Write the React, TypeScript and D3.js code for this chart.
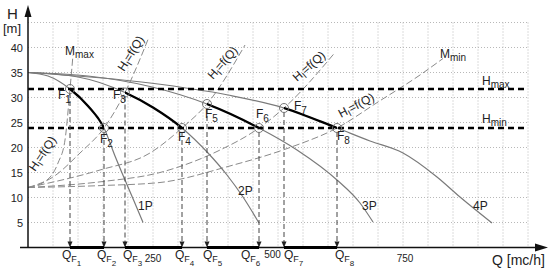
import React from 'react';
import * as d3 from 'd3';

const W = 550;
const HT = 273;
const FONT = "'Liberation Sans', Arial, sans-serif";

// pump curves H = f(Q) for 1..4 pumps in parallel
const p1Q = [0, 40, 84, 120, 152, 174, 194, 212, 230];
const p1H = [35, 34.3, 31.7, 28.3, 23.9, 18.3, 13.5, 9.3, 5];
const p2Q = [0, 100, 194, 250, 308, 360, 398, 430, 462];
const p2H = [35, 34.1, 31, 28, 23.9, 18.9, 14.5, 10.1, 4.9];
const p3Q = [0, 120, 244, 358, 462, 538, 618, 664, 690];
const p3H = [35, 34.3, 32.2, 28.7, 23.9, 19.5, 13.5, 8.9, 5.1];
const p4Q = [0, 244, 400, 512, 618, 684, 750, 818, 864, 928];
const p4H = [35, 32.9, 30.5, 27.9, 23.9, 21.3, 18.9, 14.1, 10.1, 4.9];
const pumpNames = ['1P', '2P', '3P', '4P'];
const pumpLabelQ = [220, 420, 668, 890];
const pumpLabelH = [7.5, 10.5, 7.5, 7.5];

// system curves Hi = f(Q)
const s1Q = [0, 38, 60, 74, 84, 90];
const s1H = [12, 13.5, 16.9, 21.5, 31.7, 38.5];
const s2Q = [0, 50, 104, 152, 194, 242];
const s2H = [12, 14.1, 18.9, 23.9, 31, 42.1];
const s3Q = [0, 144, 244, 308, 358, 434];
const s3H = [12, 15.5, 18.9, 23.9, 28.7, 40.5];
const s4Q = [0, 150, 264, 380, 462, 512, 614];
const s4H = [12, 13.2, 15, 19.3, 23.9, 27.9, 39];
const s5Q = [0, 150, 264, 400, 524, 618, 700, 784, 830];
const s5H = [12, 12.4, 13, 16.2, 20, 23.9, 29.1, 34.5, 37.8];
const sysLabelQ = [14, 192, 370, 538, 626];
const sysLabelH = [15.1, 35.1, 33.5, 33.1, 25.9];
const sysLabelAngle = [-56, -58, -49, -41, -28];

// operating points F1..F8
const fQ = [84, 152, 194, 308, 358, 462, 512, 618];
const fH = [31.7, 23.9, 31, 23.9, 28.7, 23.9, 27.9, 23.9];
const fNames = ['1', '2', '3', '4', '5', '6', '7', '8'];
const fDx = [-12, -4, -12, -4, -2, -3, 10, 0];
const fDy = [10, 15, 6, 13, 14, -10, 2, 12];
const qfDx = [-8, -7, -2, -7, -4, -18, 0, -2];

const hMax = 31.7;
const hMin = 23.9;
const yTickLabels = [5, 10, 15, 20, 25, 30, 35, 40];
const xTickLabels = [250, 500, 750];
const xTickDx = [0, -5.5, 2];
const xTickDy = [0, -4, 0];

type Pt = [number, number];
const zip = (q: number[], h: number[]): Pt[] => q.map((v, i) => [v, h[i]]);

export default function App() {
  const x = d3.scaleLinear().domain([0, 1000]).range([28, 528]);
  const y = d3.scaleLinear().domain([0, 45]).range([247.5, 22.5]);
  const line = d3
    .line<Pt>()
    .x((d) => x(d[0]))
    .y((d) => y(d[1]))
    .curve(d3.curveMonotoneX);

  const pumps = [zip(p1Q, p1H), zip(p2Q, p2H), zip(p3Q, p3H), zip(p4Q, p4H)];
  const systems = [zip(s1Q, s1H), zip(s2Q, s2H), zip(s3Q, s3H), zip(s4Q, s4H), zip(s5Q, s5H)];

  const y0 = y(0);
  const gridX = x.ticks(20).filter((d) => d > 0);
  const gridY = y.ticks(9).filter((d) => d > 0);

  return (
    <svg
      width={W}
      height={HT}
      style={{ position: 'absolute', left: 0, top: 0, background: '#fff' }}
      fontFamily={FONT}
    >
      <defs>
        {pumps.map((_, i) => (
          <clipPath id={`bold${i}`} key={i}>
            <rect x={x(fQ[2 * i])} y={0} width={x(fQ[2 * i + 1]) - x(fQ[2 * i])} height={HT} />
          </clipPath>
        ))}
      </defs>

      {/* grid */}
      <g stroke="#b8b8b8" strokeWidth={1} strokeDasharray="1 2">
        {gridX.map((d) => (
          <line key={'gx' + d} x1={x(d)} x2={x(d)} y1={y(45)} y2={y0} />
        ))}
        {gridY.map((d) => (
          <line key={'gy' + d} x1={x(0)} x2={x(1000)} y1={y(d)} y2={y(d)} />
        ))}
      </g>

      {/* system curves */}
      <g fill="none" stroke="#8a8a8a" strokeWidth={1} strokeDasharray="7 3">
        {systems.map((s, i) => (
          <path key={i} d={line(s) || ''} />
        ))}
      </g>

      {/* pump curves */}
      <g fill="none">
        {pumps.map((p, i) => (
          <path key={i} d={line(p) || ''} stroke="#7a7a7a" strokeWidth={1.2} />
        ))}
        {pumps.map((p, i) => (
          <path
            key={'b' + i}
            d={line(p) || ''}
            stroke="#000"
            strokeWidth={2.3}
            clipPath={`url(#bold${i})`}
          />
        ))}
      </g>

      {/* Hmax / Hmin */}
      <g stroke="#000" strokeWidth={2.5} strokeDasharray="6 4">
        <line x1={x(0)} x2={x(1000)} y1={y(hMax)} y2={y(hMax)} />
        <line x1={x(0)} x2={x(1000)} y1={y(hMin)} y2={y(hMin)} />
      </g>

      {/* vertical drop lines to QF */}
      <g>
        {fQ.map((q, i) => (
          <g key={i}>
            <line
              x1={x(q)}
              x2={x(q)}
              y1={y(fH[i]) + 4}
              y2={y0 - 4}
              stroke="#444"
              strokeWidth={1}
              strokeDasharray="5 3"
            />
            <path d={`M${x(q)},${y0} L${x(q) - 2.5},${y0 - 6} L${x(q) + 2.5},${y0 - 6} Z`} fill="#222" />
          </g>
        ))}
      </g>

      {/* axes */}
      <g stroke="#111" strokeWidth={1.5}>
        <line x1={20} x2={540} y1={y0} y2={y0} />
        <line x1={x(0)} x2={x(0)} y1={y0} y2={14} />
      </g>
      <path d={`M${x(0)},5 L${x(0) - 3.5},17 L${x(0) + 3.5},17 Z`} fill="#111" />
      <path d={`M548,${y0} L535,${y0 - 4} L535,${y0 + 4} Z`} fill="#111" />

      {/* bold Q ranges on axis */}
      <g stroke="#000" strokeWidth={3}>
        {[0, 1, 2, 3].map((i) => (
          <line key={i} x1={x(fQ[2 * i])} x2={x(fQ[2 * i + 1])} y1={y0} y2={y0} />
        ))}
      </g>

      {/* operating point circles */}
      <g fill="none" stroke="#777" strokeWidth={1}>
        {fQ.map((q, i) => (
          <circle key={i} cx={x(q)} cy={y(fH[i])} r={4.5} />
        ))}
      </g>

      {/* F labels */}
      <g fill="#222" fontSize={12}>
        {fQ.map((q, i) => (
          <text key={i} x={x(q) + fDx[i]} y={y(fH[i]) + fDy[i]}>
            F<tspan fontSize={10} dy={4}>{fNames[i]}</tspan>
          </text>
        ))}
      </g>

      {/* QF labels */}
      <g fill="#222" fontSize={12}>
        {fQ.map((q, i) => (
          <text key={i} x={x(q) + qfDx[i]} y={259}>
            Q<tspan fontSize={9} dy={3}>F</tspan>
            <tspan fontSize={8} dy={4}>{fNames[i]}</tspan>
          </text>
        ))}
      </g>

      {/* y tick labels */}
      <g fill="#222" fontSize={11} textAnchor="end">
        {yTickLabels.map((d) => (
          <text key={d} x={23} y={y(d) + 4}>
            {d}
          </text>
        ))}
      </g>
      {/* x tick labels */}
      <g fill="#222" fontSize={10} textAnchor="middle">
        {xTickLabels.map((d, i) => (
          <text key={d} x={x(d) + xTickDx[i]} y={262 + xTickDy[i]}>
            {d}
          </text>
        ))}
      </g>

      {/* axis titles */}
      <text x={7} y={19} fontSize={15} fill="#222">
        H
      </text>
      <text x={3} y={33} fontSize={13} fill="#222">
        [m]
      </text>
      <text x={492} y={265} fontSize={14} fill="#222">
        Q [mc/h]
      </text>

      {/* pump labels */}
      <g fill="#222" fontSize={12}>
        {pumpNames.map((n, i) => (
          <text key={n} x={x(pumpLabelQ[i])} y={y(pumpLabelH[i])}>
            {n}
          </text>
        ))}
      </g>

      {/* system curve labels */}
      <g fill="#222" fontSize={12}>
        {sysLabelQ.map((q, i) => (
          <text
            key={i}
            transform={`translate(${x(q)},${y(sysLabelH[i])}) rotate(${sysLabelAngle[i]})`}
          >
            H<tspan fontSize={9} dy={3}>I</tspan>
            <tspan dy={-3}>=f(Q)</tspan>
          </text>
        ))}
      </g>

      {/* M and H limit labels */}
      <g fill="#222" fontSize={12}>
        <text x={65} y={55}>
          M<tspan fontSize={10} dy={3}>max</tspan>
        </text>
        <text x={440} y={58}>
          M<tspan fontSize={10} dy={3}>min</tspan>
        </text>
        <text x={482} y={85}>
          H<tspan fontSize={10} dy={3}>max</tspan>
        </text>
        <text x={482} y={123}>
          H<tspan fontSize={10} dy={3}>min</tspan>
        </text>
      </g>
    </svg>
  );
}
